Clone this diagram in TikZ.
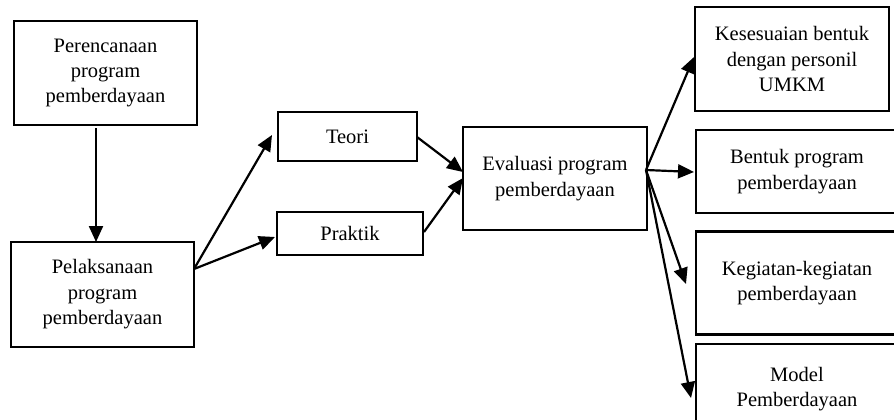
\documentclass[tikz,border=0pt]{standalone}
\usepackage{fontspec}
\setmainfont{Liberation Serif}
\usetikzlibrary{arrows.meta}
\begin{document}
\begin{tikzpicture}[x=1pt,y=-1pt,
  box/.style={draw,line width=2.2pt,rectangle,inner sep=0pt,align=center,
    font=\fontsize{20.5}{25.5}\selectfont},
  arr/.style={line width=2.2pt,-{Triangle[length=16pt,width=14pt]}}]
\useasboundingbox (0,0) rectangle (894,420);
\clip (0,0) rectangle (894,420);
\node[box,minimum width=183pt,minimum height=104pt] (plan) at (105.5,73) {Perencanaan\\program\\pemberdayaan};
\node[box,minimum width=183pt,minimum height=105pt] (pel) at (102.5,294.5) {Pelaksanaan\\program\\pemberdayaan};
\node[box,minimum width=139pt,minimum height=49pt] (teori) at (347.5,136.5) {Teori};
\node[box,minimum width=146pt,minimum height=43pt] (prak) at (350,233.5) {Praktik};
\node[box,minimum width=184pt,minimum height=103pt] (eval) at (555,178.5) {Evaluasi program\\pemberdayaan};
\node[box,minimum width=194pt,minimum height=104pt] (k1) at (792,59) {Kesesuaian bentuk\\dengan personil\\UMKM};
\node[box,minimum width=202pt,minimum height=83pt] (bentuk) at (797,171.5) {Bentuk program\\pemberdayaan};
\node[box,minimum width=202pt,minimum height=103pt] (keg) at (797,283) {Kegiatan-kegiatan\\pemberdayaan};
\node[box,minimum width=202pt,minimum height=86pt,text depth=0pt] (model) at (797,387) {Model\\Pemberdayaan};
% connector points
\coordinate (planout) at (96,128);
\coordinate (pelin) at (96,242);
\coordinate (pelout) at (194,269);
\coordinate (teoriin) at (272,135);
\coordinate (prakin) at (275,237);
\coordinate (teoriout) at (417,137);
\coordinate (prakout) at (424,232);
\coordinate (evalin1) at (463,172);
\coordinate (evalin2) at (463,178);
\coordinate (evalout) at (646,170);
\coordinate (k1in) at (694,57);
\coordinate (bentukin) at (694,172);
\coordinate (kegin) at (686,284);
\coordinate (modelin) at (691,398);
\draw[arr] (planout) -- (pelin);
\draw[arr] (pelout) -- (teoriin);
\draw[arr] (pelout) -- (prakin);
\draw[arr] (teoriout) -- (evalin1);
\draw[arr] (prakout) -- (evalin2);
\draw[arr] (evalout) -- (k1in);
\draw[arr] (evalout) -- (bentukin);
\draw[arr] (evalout) -- (kegin);
\draw[arr] (evalout) -- (modelin);
\end{tikzpicture}
\end{document}
